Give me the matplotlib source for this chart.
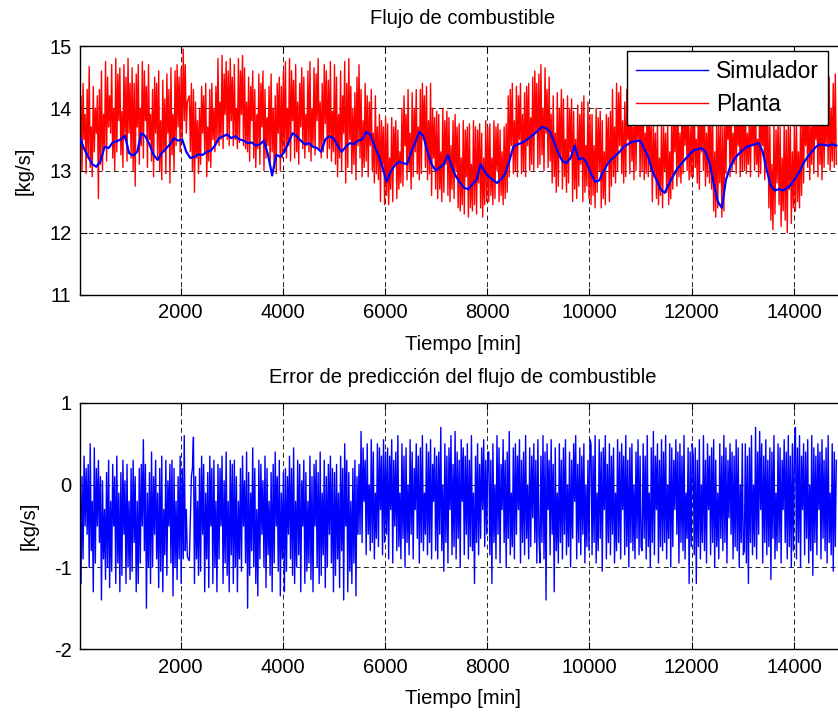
import numpy as np
import matplotlib
matplotlib.use("Agg")
import matplotlib.pyplot as plt

plt.rcParams['font.family'] = ['Liberation Sans', 'DejaVu Sans']
plt.rcParams['axes.unicode_minus'] = False

# ---------------- data ----------------
# plant / error samples: first time [min] and sampling step [min]
t_start, t_step = 30, 20

planta = [
    13.6, 14.2, 13.0, 14.4, 13.5, 13.9, 12.95, 14.3, 13.2, 14.67, 13.05, 13.7, 12.9, 14.35, 13.3, 14.0, 13.6, 14.2, 12.55,
    14.3, 13.1, 14.6, 13.0, 13.9, 13.4, 14.75, 13.15, 14.5, 13.7, 14.2, 13.6, 14.7, 13.2, 14.0, 13.0, 14.8, 13.3, 14.55, 13.8, 14.65, 13.25, 13.95, 13.05, 14.7, 13.5, 14.5, 13.15, 14.8, 13.6, 14.4,
    13.2, 14.65, 13.0, 14.4, 12.75, 14.55, 13.7, 14.7, 13.1, 14.0,
    13.4, 14.75, 13.2, 14.6, 13.8, 14.35, 13.05, 14.7, 13.5, 13.9,
    13.15, 14.3, 12.9, 14.5, 13.6, 14.4, 13.2, 14.6, 13.0, 13.8,
    12.85, 14.45, 13.3, 14.15, 12.95, 14.55, 13.6, 14.3, 12.8, 14.65,
    13.25, 13.9, 13.0, 14.6, 13.4, 14.7, 13.7, 14.5, 13.3, 14.65,
    13.5, 14.95, 13.8, 14.7, 13.6, 14.1, 14.15, 14.2, 13.3, 14.4,
    13.0, 14.3, 12.65, 14.1, 13.2, 13.8, 12.95, 14.0, 13.1, 14.35, 13.6, 14.2, 13.3, 14.4, 12.9, 13.7, 13.15, 14.3, 13.05, 14.4, 13.5, 14.0, 13.3, 14.35,
    13.45, 14.8, 13.4, 14.1, 13.5, 14.85, 13.35, 14.55, 13.9, 14.75, 13.5, 14.6, 13.4, 14.8, 13.8, 14.5,
    13.4, 14.7, 13.5, 14.0, 13.35, 14.8, 13.45, 14.6, 13.9, 14.85, 13.4, 14.65, 13.35, 14.1,
    13.3, 14.5, 13.15, 14.35, 13.8, 14.6, 13.2, 14.3, 13.05, 13.9, 13.35, 14.55, 13.1, 14.4, 13.7, 14.6, 13.0, 14.3, 13.2, 13.85,
    13.4, 14.35, 13.1, 14.55, 13.3, 14.0, 13.05, 14.2, 12.95, 14.4, 13.6, 14.5, 13.0, 14.35, 13.2, 14.6,
    13.3, 14.75, 13.2, 14.0, 13.4, 14.8, 13.15, 14.6, 13.8, 14.45,
    13.2, 14.7, 13.3, 14.1, 13.1, 14.4, 13.7, 14.65, 13.35, 14.5,
    13.2, 13.9, 13.4, 14.6, 13.3, 14.75, 13.15, 14.0, 13.4, 14.65,
    13.25, 14.55, 13.8, 14.8, 13.35, 14.1, 13.2, 14.4, 13.3, 14.7,
    13.75, 14.6, 13.2, 14.45, 13.35, 14.75, 13.15, 13.95, 13.3, 14.7,
    13.1, 14.5, 12.9, 13.9, 13.2, 14.6, 13.0, 14.2, 13.6, 14.75,
    12.8, 14.4, 13.05, 14.8, 13.5, 14.35, 12.95, 14.0, 13.1, 14.25,
    12.85, 14.5, 13.4, 14.7, 13.2, 14.3, 12.9, 13.8, 13.05, 14.4,
    13.15, 14.2,
    12.9, 14.1, 13.4, 14.3, 13.0, 13.6, 12.8, 14.2, 12.95, 13.7, 12.85, 13.9,
    12.5, 13.8, 13.1, 13.7, 12.45, 13.85,
    12.6, 13.75, 12.45, 13.2, 12.7, 13.85, 12.5, 13.7, 13.1, 13.8, 12.55, 13.65, 12.7, 13.3,
    12.8, 14.0, 12.75, 14.2, 13.4, 13.9, 12.85, 14.3, 13.0, 13.6, 12.7, 14.25, 12.9, 14.0, 13.3, 14.3, 12.95, 13.7, 12.85, 14.3,
    12.95, 14.4, 13.5, 14.2, 13.05, 14.35, 12.85, 13.8, 12.95, 14.4, 12.6, 14.0, 13.2, 13.85, 12.7, 13.95,
    12.55, 13.9, 12.7, 13.3, 12.5, 14.0, 12.65, 13.8, 13.1, 13.95, 12.6, 13.85, 12.5, 13.4, 12.7, 13.8, 12.55, 13.9, 13.0,
    13.7, 12.4, 13.75, 12.35, 13.2, 12.45, 13.8, 12.3, 13.65, 12.9, 13.7, 12.25, 13.75, 12.4, 13.1, 12.35, 13.8, 12.45, 13.7, 12.3,
    13.65, 12.8, 13.75, 12.4, 13.6, 12.25, 13.2, 12.45, 13.8, 12.5, 13.7,
    12.5, 13.75, 12.6, 13.2, 12.45, 13.8, 12.55, 13.7, 13.0, 13.75, 12.5, 13.65, 12.6, 13.3, 12.45, 13.7, 12.55, 13.75, 12.65,
    14.2, 12.9, 14.3, 13.4, 14.4, 12.95, 13.8, 13.0, 14.35, 12.9, 14.2, 13.5, 14.4, 12.95, 13.9, 13.0, 14.25, 12.9, 14.35, 13.4, 14.4, 13.0, 13.85,
    13.1, 14.5, 13.0, 14.6, 13.6, 14.4, 13.05, 14.55,
    13.1, 14.7, 13.25, 14.0, 13.0, 14.65, 13.6, 14.3, 13.05, 14.5, 13.15, 13.9,
    12.8, 14.2, 12.9, 13.6, 12.65, 14.25, 12.75, 14.0, 13.2, 14.3, 12.7, 14.15, 12.9, 13.5, 12.65, 14.2, 12.8, 14.0, 13.3,
    14.15, 12.5, 13.95, 12.7, 13.5, 12.55, 14.05, 12.75, 13.9, 13.1, 14.1, 12.5, 14.2, 12.65, 13.4, 12.75, 14.1, 12.55, 13.9,
    12.45, 13.9, 12.6, 13.4, 12.4, 14.0, 12.65, 13.85, 13.0, 13.95, 12.4, 13.8, 12.55, 13.3, 12.45, 13.9, 13.1, 13.85, 12.5, 13.95,
    12.75, 14.3, 12.9, 13.7, 12.8, 14.4, 13.0, 14.25, 13.4, 14.35, 12.95, 13.8, 12.8,
    14.1, 12.9, 14.3, 13.5, 14.0, 12.95, 14.35, 13.15, 13.7, 12.85, 14.4, 13.0, 14.1, 13.5, 14.3, 12.9, 14.2,
    13.0, 14.2, 12.85, 13.6, 12.95, 14.2, 12.9, 14.15, 13.0,
    13.7, 12.5, 13.8, 12.9, 13.6, 12.55, 13.75, 12.45, 13.2, 12.6, 13.8, 12.4, 13.7, 13.0, 13.6, 12.65, 13.75, 12.45, 13.3, 12.55,
    13.9, 12.7, 14.0, 13.3, 14.1, 12.75, 13.95, 12.9, 13.6, 12.8, 14.05, 12.95, 14.1, 13.4, 14.15, 13.0, 13.95, 12.85, 13.7, 12.9, 14.1,
    12.9, 14.1, 13.05, 13.5, 12.8, 14.0, 12.7, 14.15, 13.3, 14.05, 13.0, 13.95, 12.75, 13.6, 12.9, 14.0, 12.8, 14.15, 12.7,
    13.8, 12.35, 13.3, 12.25, 13.85, 12.4, 13.75, 12.8, 13.8, 12.25, 13.7, 12.35, 13.85,
    12.95, 14.0, 13.5, 14.1, 12.9, 13.95, 13.0, 13.6, 13.1, 14.05, 12.95, 14.15, 13.4, 13.95, 12.9, 14.1, 13.0, 14.2,
    13.0, 14.1, 12.95, 13.6, 13.1, 13.9, 12.9, 14.05, 13.4, 14.15, 13.0, 13.95, 13.1, 13.5, 12.9, 14.0, 12.95, 14.1, 13.4, 13.9, 12.85, 14.15, 13.0, 13.95,
    12.4, 13.7, 12.2, 13.1, 12.05, 13.75, 12.3, 13.65, 12.8, 13.8, 12.45, 13.7, 12.1, 13.2, 12.35, 13.75, 12.2, 13.65, 12.0, 13.8, 12.7, 13.7, 12.15, 13.3, 12.4, 13.75,
    12.35, 13.8, 12.5, 13.3, 12.4, 13.8, 12.6,
    14.0, 12.8, 14.1, 13.4, 13.95, 13.05, 14.2, 12.85, 13.7, 13.1, 14.3, 12.95, 14.05, 13.5, 14.2, 12.9, 14.3, 13.1, 13.8, 12.85, 14.25, 13.05, 14.1, 13.4, 14.3,
    13.1, 14.5, 13.0, 14.0, 13.15, 14.4, 13.05, 14.55, 13.1,
]

error = [
    0.3, -1.2, 0.1, -0.9, 0.35, -0.5, 0.2, -0.6, 0.25, -1.0, 0.5, -0.8, -0.2, -1.3, 0.45, -0.95, 0.2, -0.5, 0.3, -0.7,
    0.1, -1.4, 0.05, -0.9, -0.3, -1.15, 0.15, -1.0, 0.3, -1.25, -0.2, -1.05, 0.25, -0.5, 0.1, -1.2, 0.35, -0.95, -0.1, -1.3,
    0.15, -1.1, 0.3, -0.6, 0.05, -1.2, 0.25, -1.0, -0.2, -1.15,
    0.2, -1.05, 0.3, -0.7, 0.1, -1.3, -0.2, -1.2, 0.2, -0.95, 0.25, -0.5, 0.55, -0.8, 0.25, -1.5, -0.1, -1.0, 0.15, -1.2,
    0.4, -1.0, 0.1, -0.6, 0.3, -0.9, -0.1, -1.25, 0.2, -1.05, 0.35, -1.3, -0.3, -0.85, 0.3, -1.1, 0.05, -0.5, 0.25, -0.95,
    0.3, -1.35, 0.2, -1.0, -0.2, -1.15, 0.1, -0.9, 0.35, -1.2,
    0.2, -0.9, 0.6, -0.8, -0.3, -0.87, -0.9, -0.92, -0.4, 0.1,
    0.2, 0.58, -1.2, 0.1, -0.9, -0.2, -1.1, 0.2, -1.05, 0.35, -0.6, 0.25, -1.3, -0.1, -0.9, 0.15, -1.25, 0.35, -0.5, 0.2,
    -1.2, 0.3, -1.0, -0.2, -1.3, 0.25, -0.9, 0.2, -0.5, 0.35, -1.2, 0.05, -0.95, 0.4, -1.1, -0.2, -1.3, 0.3, -0.85, 0.25,
    -1.2, 0.3, -1.0, 0.1, -1.3, -0.2, -0.9, 0.2, -1.05, 0.35, -0.5, 0.05, -0.95, 0.4, -1.5, 0.15, -1.1, -0.1, -0.8, 0.45,
    -1.0, 0.2, -1.2, -0.3, -1.35, 0.3, -0.9, 0.25, -0.6, 0.05, -1.0, 0.35, -1.25, 0.2, -0.85, -0.2, -1.1, 0.15, -1.3, 0.25,
    -0.95, 0.4, -0.5, 0.1, -1.05, 0.3, -1.35, -0.1, -0.9, 0.15,
    -1.3, 0.2, -1.05, 0.1, -0.6, 0.35, -0.9, 0.2, -1.1, 0.45, -1.2, -0.2, -1.0, 0.3, -0.85, 0.25, -1.3, 0.05, -0.5, 0.3,
    -1.2, 0.15, -1.05, -0.2, -0.95, 0.35, -1.15, 0.1, -1.3, 0.25, -0.5, 0.3, -1.0, 0.15, -1.2, 0.4, -1.1, -0.1, -0.85, 0.3,
    -1.25, 0.1, -1.0, 0.25, -0.6, 0.35, -0.95, 0.2, -1.3, 0.15,
    -1.1, 0.25, -0.9, -0.1, -1.25, 0.35, -0.8, 0.2, -1.4, 0.5, -0.5, 0.3, -1.3, 0.15, -1.05, -0.2, -1.2, 0.2, -0.95, 0.3, -1.35, 0.1, -0.6, 0.25,
    -0.6, 0.65, -0.7, 0.45, -0.2, 0.3, -0.85, 0.5, -0.6, 0.0, -0.8, 0.55, -0.7, 0.4, -0.9, -0.1, -0.65, 0.5, -0.75, 0.45, -0.3, 0.35, -0.85, 0.55, -0.7, 0.4,
    -0.6, 0.45, -0.9, 0.35, -0.3, 0.55, -0.95, 0.3, -0.5, 0.4, -0.8, 0.6, -0.75, -0.1, -0.9, 0.5, -0.65, 0.35, -1.0, 0.45,
    -0.7, 0.0, -0.85, 0.55, -0.6, 0.4, -0.9, 0.2, -0.3, 0.5, -0.65, 0.35, -0.95, 0.45, -0.7, 0.6, -0.8, -0.1, -0.6, 0.5,
    -0.85, 0.4, -0.7, 0.55, -0.9, 0.25, -0.2, 0.45, -0.8, 0.35,
    -0.9, 0.4, -0.6, 0.7, -0.8, 0.0, -1.05, 0.5, -0.7, 0.35, -0.95, 0.45, -0.3, 0.6, -0.85, 0.25, -0.75, 0.65, -0.9, 0.4,
    -0.65, 0.3, -1.0, 0.55, -0.2, 0.45, -0.85, 0.35, -0.6, 0.5, -0.9, 0.3, -0.75, 0.6, -0.8, -0.1, -1.2, 0.35, -0.7, 0.5,
    -0.85, 0.25, -0.65, 0.45, -0.3, 0.55, -0.75, 0.3, -0.6, 0.4,
    0.4, -0.85, 0.3, -1.2, 0.5, -0.7, 0.0, -0.9, 0.6, -0.6, 0.45, -0.95, 0.25, -0.3, 0.55, -0.7, 0.3, -1.0, 0.4, -0.65,
    0.65, -0.85, -0.1, -0.75, 0.45, -0.9, 0.5, -0.6, 0.35, -0.3, 0.55, -0.95, 0.3, -0.7, 0.4, -0.85, 0.6, -0.65, 0.0, -0.9,
    0.45, -0.75, 0.35, -0.4, 0.5, -0.7, 0.3, -0.95, 0.55, -0.6,
    -0.95, 0.35, -0.7, 0.6, -0.9, 0.4, -1.4, 0.5, -0.3, 0.3, -0.85, 0.55, -0.6, 0.25, -1.3, 0.45, -0.8, -0.1, -0.95, 0.5,
    -0.7, 0.3, -0.9, 0.45, -0.6, 0.55, -0.85, 0.0, -0.75, 0.4, -1.0, 0.3, -0.65, 0.5, -0.2, 0.6, -0.9, 0.25, -0.7, 0.45,
    -0.85, 0.35, -0.6, 0.5, -0.95, 0.0, -0.75, 0.3, -0.8, 0.55,
    0.5, -0.85, 0.35, -0.7, 0.6, -0.95, -0.1, -0.8, 0.55, -0.65, 0.4, -1.05, 0.45, -0.3, 0.6, -0.9, 0.25, -0.7, 0.5, -0.85,
    0.35, -0.6, 0.45, -0.95, -0.1, -0.8, 0.55, -0.7, 0.4, -0.9, 0.5, -0.3, 0.35, -0.85, 0.6, -0.75, 0.3, -1.0, 0.45, -0.7,
    0.5, -0.8, 0.0, -0.9, 0.4, -0.65, 0.55, -0.85, 0.35, -0.75,
    -0.8, 0.5, -0.65, 0.35, -0.9, 0.6, -0.75, -0.1, -1.0, 0.45, -0.7, 0.65, -0.85, 0.35, -0.3, 0.5, -0.95, 0.3, -0.75, 0.55,
    -0.8, 0.4, -0.7, 0.6, -0.9, 0.0, -0.65, 0.5, -1.0, 0.45, -0.75, 0.3, -0.3, 0.55, -0.6, 0.4, -0.95, 0.5, -0.7, 0.35,
    -0.8, 0.6, -0.9, -0.1, -0.65, 0.45, -1.2, 0.4, -0.75, 0.5,
    0.35, -0.85, 0.45, -1.2, 0.3, -0.75, 0.55, -0.9, 0.0, -0.7, 0.6, -0.8, 0.3, -0.95, 0.5, -0.3, 0.35, -0.85, 0.45, -0.7,
    0.55, -1.0, 0.3, -0.75, -0.1, -0.9, 0.5, -0.65, 0.35, -0.8, 0.6, -0.7, 0.45, -0.95, 0.3, -0.4, 0.5, -0.6, 0.4, -0.9,
    0.35, -0.75, 0.55, -0.8, 0.45, -1.0, 0.0, -0.7, 0.5, -0.85,
    -0.8, 0.5, -0.95, 0.35, -1.2, 0.45, -0.7, 0.6, -0.85, 0.0, -0.75, 0.7, -0.9, 0.4, -0.6, 0.65, -0.3, 0.5, -0.95, 0.35,
    -0.7, 0.55, -0.85, 0.3, -0.75, 0.45, -1.15, 0.4, -0.65, 0.6, -0.9, -0.1, -0.8, 0.5, -0.7, 0.45, -0.95, 0.3, -0.3, 0.55,
    -0.7, 0.4, -0.9, 0.6, -0.75, 0.35, -1.0, 0.5, -0.8, 0.45,
    0.7, -0.9, 0.45, -0.7, 0.6, -1.0, 0.35, -0.3, 0.5, -0.85, 0.4, -0.65, 0.55, -0.95, 0.0, -0.8, 0.6, -1.1, 0.45, -0.7,
    0.35, -0.85, 0.5, -0.3, 0.4, -0.9, 0.55, -0.65, 0.3, -0.8, 0.45, -0.95, 0.6, -0.7, -0.1, -0.85, 0.5, -1.05, 0.4, -0.75, 0.3,
]

# simulator output, sampled every 80 min
s_start, s_step = 30, 80
simulador = [
    13.52, 13.35, 13.22, 13.1, 13.06, 13.15, 13.38, 13.36, 13.45, 13.47, 13.5, 13.56, 13.28, 13.24, 13.3, 13.6, 13.55, 13.42, 13.25, 13.17,
    13.28, 13.35, 13.42, 13.52, 13.48, 13.5, 13.3, 13.2, 13.22, 13.26, 13.25, 13.3, 13.32, 13.4, 13.52, 13.55, 13.58, 13.52, 13.55, 13.5,
    13.48, 13.44, 13.45, 13.4, 13.42, 13.48, 13.25, 12.92, 13.25, 13.22, 13.3, 13.45, 13.6, 13.55, 13.48, 13.42, 13.44, 13.38, 13.36, 13.3,
    13.5, 13.55, 13.52, 13.4, 13.3, 13.38, 13.44, 13.42, 13.48, 13.5, 13.62, 13.58, 13.4, 13.25, 13.05, 12.82, 12.98, 13.08, 13.14, 13.12,
    13.1, 13.3, 13.45, 13.62, 13.55, 13.3, 13.1, 13.0, 13.05, 13.1, 13.25, 13.05, 12.9, 12.8, 12.72, 12.7, 12.78, 12.85, 13.1, 12.98,
    12.9, 12.85, 12.8, 12.86, 12.95, 13.15, 13.38, 13.42, 13.44, 13.48, 13.53, 13.58, 13.64, 13.7, 13.68, 13.62, 13.45, 13.28, 13.15, 13.12,
    13.2, 13.4, 13.18, 13.2, 13.12, 12.95, 12.82, 12.84, 12.98, 13.1, 13.18, 13.24, 13.3, 13.38, 13.42, 13.46, 13.47, 13.48, 13.35, 13.22,
    13.0, 12.85, 12.7, 12.64, 12.78, 12.9, 13.02, 13.1, 13.18, 13.25, 13.32, 13.34, 13.36, 13.3, 13.12, 12.8, 12.5, 12.4, 12.85, 13.05,
    13.18, 13.26, 13.32, 13.38, 13.4, 13.42, 13.44, 13.3, 13.0, 12.75, 12.68, 12.7, 12.68, 12.72, 12.78, 12.88, 12.98, 13.12, 13.22, 13.3,
    13.38, 13.42, 13.41, 13.4, 13.42, 13.4,
]

x_ticks = [2000, 4000, 6000, 8000, 10000, 12000, 14000]
y_ticks_top = [11, 12, 13, 14, 15]
y_ticks_bot = [-2, -1, 0, 1]

t_planta = t_start + t_step * np.arange(len(planta))
t_error = t_start + t_step * np.arange(len(error))
t_sim = s_start + s_step * np.arange(len(simulador))

# ---------------- figure ----------------
W, H = 838, 713
fig = plt.figure(figsize=(W / 100, H / 100), dpi=100)

ax_l = 80 / W
ax_w = (845 - 80) / W
ax1 = fig.add_axes([ax_l, (H - 295) / H, ax_w, (295 - 46) / H])
ax2 = fig.add_axes([ax_l, (H - 649.3) / H, ax_w, (649.3 - 402.7) / H])

FS = 14.5

def style(ax, yt, ylim):
    ax.set_xlim(30, 15000)
    ax.set_ylim(*ylim)
    ax.set_xticks(x_ticks)
    ax.set_yticks(yt)
    ax.tick_params(direction='in', length=5, width=0.8, labelsize=FS, pad=6,
                   top=True, right=False)
    ax.grid(True, color='black', linestyle=(0, (6, 4)), linewidth=0.6)
    for s in ax.spines.values():
        s.set_linewidth(1.0)
        s.set_color('black')
    ax.set_xlabel('Tiempo [min]', fontsize=FS, labelpad=9)
    ax.set_ylabel('[kg/s]', fontsize=FS, labelpad=11)

ax1.plot(t_sim, simulador, color=(0, 0, 1), linewidth=1.6,
         label='Simulador', zorder=3)
ax1.plot(t_planta, planta, color=(1, 0, 0), linewidth=1.0, label='Planta', zorder=2)
style(ax1, y_ticks_top, (11, 15))
ax1.set_title('Flujo de combustible', fontsize=FS, pad=16)
leg = ax1.legend(loc='upper right', bbox_to_anchor=(0.978, 0.98), fontsize=16.5,
                 frameon=True, fancybox=False, edgecolor='black', framealpha=1,
                 handlelength=3.15, handletextpad=0.35, borderpad=0.4,
                 labelspacing=0.42, borderaxespad=0)
leg.get_frame().set_linewidth(1.0)
for ln in leg.get_lines():
    ln.set_linewidth(1.0)

ax2.plot(t_error, error, color=(0, 0, 1), linewidth=1.0)
style(ax2, y_ticks_bot, (-2, 1))
ax2.set_title('Error de predicción del flujo de combustible', fontsize=FS, pad=14)

fig.savefig('out.png', dpi=100)
